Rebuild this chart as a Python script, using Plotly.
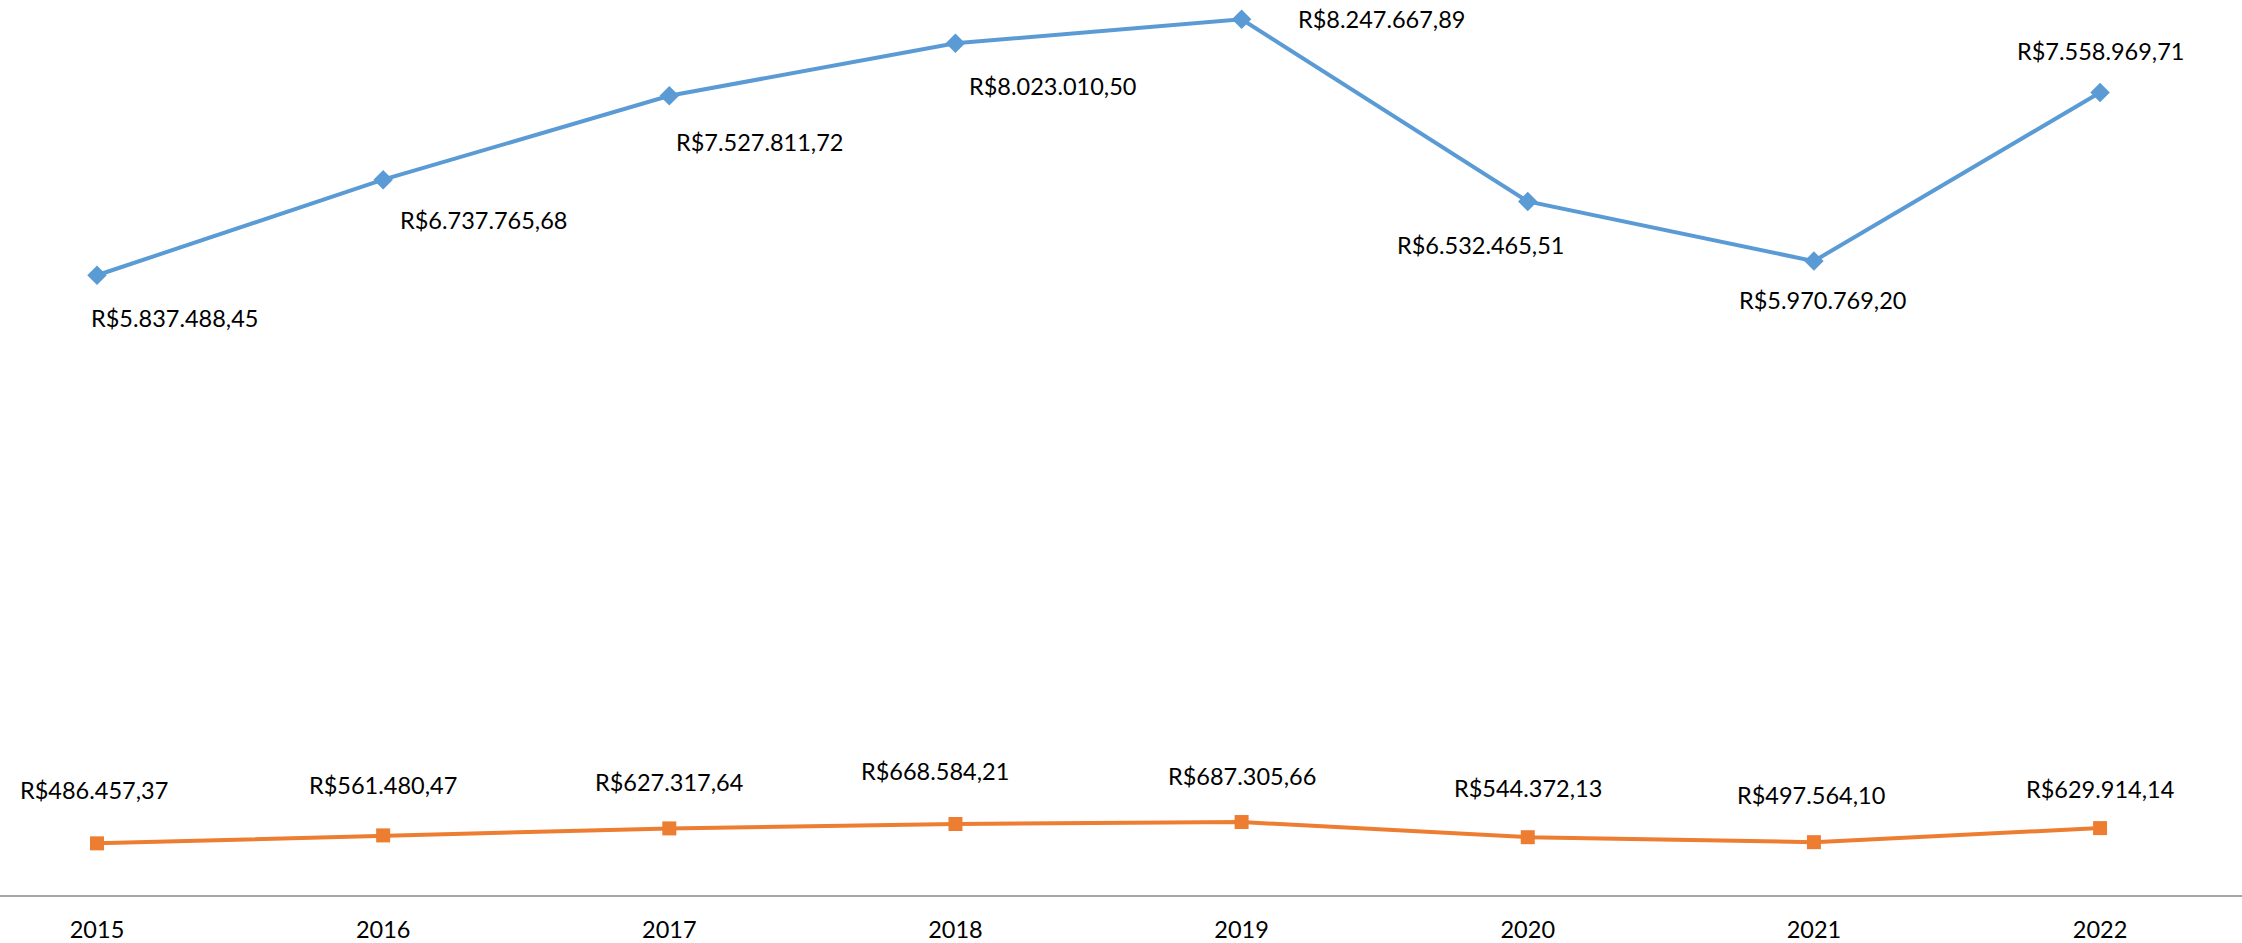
import plotly.graph_objects as go

years = ["2015", "2016", "2017", "2018", "2019", "2020", "2021", "2022"]
serie_a = [5837488.45, 6737765.68, 7527811.72, 8023010.50, 8247667.89, 6532465.51, 5970769.20, 7558969.71]
serie_b = [486457.37, 561480.47, 627317.64, 668584.21, 687305.66, 544372.13, 497564.10, 629914.14]

# label offsets in pixels (style only)
off_a = [(77, -43), (100, -40), (90, -46), (97, -43), (140, 0), (-47, -44), (9, -39), (0, 41)]
off_b = [(-3, 53), (0, 50), (0, 46), (-20, 53), (0, 46), (0, 49), (-3, 47), (0, 39)]

def brl(v):
    s = f"{v:,.2f}"
    s = s.replace(",", "X").replace(".", ",").replace("X", ".")
    return "R$" + s

FONT = "Lato"
FS = 23.5
BLUE = "#5B9BD5"
ORANGE = "#ED7D31"

fig = go.Figure()
fig.add_trace(go.Scatter(x=years, y=serie_a, mode="lines+markers", name="A",
                         line=dict(color=BLUE, width=4),
                         marker=dict(symbol="diamond", size=15, color=BLUE)))
fig.add_trace(go.Scatter(x=years, y=serie_b, mode="lines+markers", name="B",
                         line=dict(color=ORANGE, width=4),
                         marker=dict(symbol="square", size=14, color=ORANGE)))

ann = []
for i, (v, (dx, dy)) in enumerate(zip(serie_a, off_a)):
    ann.append(dict(x=i, y=v, xref="x", yref="y", text=brl(v), showarrow=False,
                    xshift=dx, yshift=dy, font=dict(family=FONT, size=FS, color="#000000")))
for i, (v, (dx, dy)) in enumerate(zip(serie_b, off_b)):
    ann.append(dict(x=i, y=v, xref="x", yref="y", text=brl(v), showarrow=False,
                    xshift=dx, yshift=dy, font=dict(family=FONT, size=FS, color="#000000")))

fig.update_layout(
    width=2242, height=943,
    margin=dict(l=0, r=0, t=0, b=48),
    paper_bgcolor="white", plot_bgcolor="white",
    showlegend=False,
    annotations=ann,
    font=dict(family=FONT, size=FS, color="#000000"),
    xaxis=dict(type="category", range=[-0.339, 7.496], showgrid=False, zeroline=False,
               showline=True, linecolor="#A6A6A6", linewidth=2, ticks="",
               ticklabelstandoff=13, tickfont=dict(family=FONT, size=FS, color="#000000")),
    yaxis=dict(range=[0, 8430000], showgrid=False, zeroline=False, showline=False,
               showticklabels=False, ticks=""),
)

fig.write_html("out.html", config={"displayModeBar": False},
               post_script="document.body.style.margin='0';")
